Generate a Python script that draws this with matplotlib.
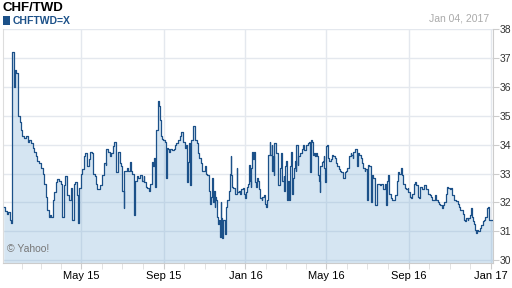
import matplotlib
matplotlib.use('Agg')
import matplotlib.pyplot as plt
import matplotlib.dates as mdates
from matplotlib.patches import Rectangle
import pandas as pd

plt.rcParams['font.family'] = ['Liberation Sans', 'DejaVu Sans']

title = 'CHF/TWD'
symbol = 'CHFTWD=X'
as_of = 'Jan 04, 2017'

# days since 2015-01-01
day = [4, 6, 9, 11, 13, 15, 16, 17, 19, 20, 21, 23, 25, 26, 28, 30, 32, 35, 37, 40,
       42, 44, 47, 49, 52, 54, 57, 59, 62, 64, 67, 69, 71, 73, 75, 77, 79, 82, 84, 86,
       89, 91, 94, 96, 99, 101, 104, 106, 109, 111, 114, 115, 117, 120, 121, 124, 126, 128, 129, 131,
       133, 136, 137, 140, 142, 144, 147, 148, 151, 153, 156, 157, 159, 162, 164, 167, 168, 171, 172, 174,
       175, 177, 179, 181, 183, 184, 185, 188, 190, 192, 194, 196, 198, 199, 200, 203, 205, 208, 210, 213,
       214, 216, 218, 221, 223, 225, 227, 229, 230, 231, 232, 234, 235, 236, 237, 239, 240, 242, 245, 246,
       247, 248, 250, 251, 253, 256, 258, 260, 262, 264, 267, 269, 271, 272, 274, 276, 277, 278, 279, 281,
       282, 283, 284, 286, 287, 289, 290, 292, 294, 296, 298, 300, 302, 304, 306, 308, 310, 311, 312, 313,
       315, 316, 318, 319, 320, 321, 323, 324, 325, 327, 328, 329, 330, 332, 333, 335, 336, 338, 340, 342,
       343, 344, 345, 347, 349, 350, 352, 353, 355, 357, 359, 361, 363, 365, 366, 368, 369, 370, 372, 373,
       374, 375, 377, 378, 379, 381, 382, 384, 385, 387, 389, 390, 393, 394, 396, 397, 398, 399, 401, 402,
       404, 405, 406, 407, 408, 410, 411, 413, 414, 416, 417, 418, 419, 421, 422, 423, 424, 425, 427, 428,
       430, 431, 432, 433, 435, 436, 438, 439, 440, 441, 443, 444, 446, 448, 450, 451, 453, 455, 456, 458,
       460, 461, 462, 463, 465, 466, 468, 469, 471, 472, 474, 475, 476, 477, 479, 481, 482, 483, 484, 485,
       487, 488, 490, 492, 494, 496, 498, 500, 502, 504, 506, 508, 510, 511, 513, 515, 517, 519, 520, 522,
       523, 525, 526, 528, 529, 531, 532, 533, 535, 537, 539, 541, 543, 544, 546, 547, 548, 550, 552, 553,
       554, 556, 558, 559, 561, 564, 566, 568, 571, 573, 575, 576, 578, 579, 582, 584, 586, 588, 591, 593,
       595, 597, 599, 601, 603, 605, 607, 608, 611, 612, 614, 616, 618, 620, 622, 624, 626, 628, 630, 632,
       634, 636, 638, 640, 642, 644, 646, 648, 650, 652, 654, 656, 658, 660, 662, 664, 666, 668, 670, 672,
       674, 676, 678, 680, 682, 684, 686, 688, 690, 691, 693, 694, 697, 698, 700, 702, 703, 705, 707, 708,
       710, 711, 713, 715, 717, 719, 721, 723, 725, 727, 728, 729, 734]

rate = [31.85, 31.7, 31.6, 31.65, 31.4, 31.3, 34.3, 37.2, 36.5, 36.0, 36.6, 36.5, 36.1, 35.0, 34.8, 34.5, 34.3, 34.25, 34.3, 34.1,
        34.15, 34.05, 33.9, 33.75, 33.6, 33.45, 33.35, 33.2, 33.0, 32.65, 32.2, 31.75, 31.5, 31.55, 31.5, 32.1, 32.35, 32.7, 32.8, 32.75,
        32.65, 31.5, 32.6, 32.9, 32.25, 32.1, 32.5, 31.4, 32.65, 32.7, 32.25, 31.3, 32.5, 33.0, 33.15, 33.6, 33.7, 33.45, 33.25, 33.5,
        33.75, 33.7, 33.0, 32.9, 32.65, 32.45, 32.45, 32.6, 32.95, 33.35, 33.3, 33.85, 33.75, 33.6, 33.7, 33.95, 34.1, 33.85, 33.05, 33.5,
        33.75, 33.35, 33.25, 32.4, 31.8, 33.1, 33.1, 33.2, 33.1, 33.4, 33.1, 33.0, 32.2, 31.55, 32.75, 32.9, 32.85, 32.95, 32.75, 32.9,
        32.7, 32.55, 32.5, 32.4, 32.65, 33.4, 33.25, 33.55, 32.55, 33.4, 34.5, 35.15, 35.5, 35.35, 34.85, 34.3, 34.2, 34.15, 34.1, 33.4,
        32.85, 33.9, 33.85, 33.75, 33.85, 33.8, 33.85, 34.0, 34.05, 34.15, 34.3, 34.45, 34.35, 34.1, 33.9, 34.0, 33.25, 32.7, 33.4, 34.05,
        32.6, 33.4, 34.15, 34.45, 34.65, 34.4, 34.15, 34.05, 33.7, 33.55, 33.35, 33.1, 33.1, 33.25, 33.0, 32.95, 32.85, 32.4, 31.95, 32.2,
        32.85, 32.0, 32.4, 31.85, 32.2, 32.1, 31.5, 31.25, 31.4, 30.8, 32.0, 31.45, 30.75, 31.4, 31.4, 30.9, 31.85, 32.1, 32.4, 33.0,
        33.6, 32.95, 32.55, 32.5, 32.4, 32.3, 33.2, 32.35, 32.4, 32.3, 32.45, 32.5, 32.3, 32.15, 32.35, 32.55, 32.65, 33.3, 32.75, 32.55,
        33.2, 33.75, 33.5, 33.75, 32.7, 32.55, 32.85, 32.75, 32.45, 32.15, 32.1, 32.2, 32.25, 31.95, 31.85, 32.1, 32.75, 33.65, 34.1, 33.65,
        34.0, 33.1, 33.6, 32.95, 34.05, 34.0, 33.7, 32.75, 32.6, 32.75, 33.2, 33.7, 32.75, 32.75, 32.9, 32.4, 33.25, 33.45, 32.1, 32.75,
        32.1, 32.7, 33.25, 33.75, 32.3, 32.85, 33.2, 33.45, 33.1, 34.0, 33.3, 33.6, 33.7, 33.7, 33.85, 34.0, 33.8, 33.95, 34.0, 34.05,
        34.1, 33.65, 33.05, 34.15, 34.1, 33.65, 33.7, 33.6, 33.7, 33.6, 32.95, 32.75, 32.35, 33.25, 33.4, 33.45, 33.6, 33.2, 32.7, 33.95,
        34.0, 33.55, 33.45, 33.5, 33.65, 33.6, 33.55, 33.35, 33.25, 33.15, 33.1, 33.05, 33.0, 32.85, 33.05, 33.1, 33.2, 33.4, 33.6, 33.7,
        33.65, 33.55, 33.75, 33.8, 33.85, 33.75, 33.25, 33.7, 33.65, 33.55, 33.35, 33.2, 33.1, 33.15, 32.7, 32.1, 33.3, 33.25, 33.2, 32.0,
        32.95, 32.85, 32.8, 31.9, 32.65, 32.65, 32.6, 32.65, 32.45, 32.65, 31.9, 32.75, 32.95, 32.3, 32.15, 32.1, 32.1, 32.25, 32.75, 33.05,
        33.0, 33.2, 32.95, 32.65, 32.5, 32.45, 32.5, 32.35, 32.2, 32.15, 32.3, 32.65, 32.7, 32.6, 32.2, 32.15, 32.55, 32.45, 32.45, 32.6,
        32.45, 32.45, 32.3, 32.25, 32.2, 32.1, 32.1, 32.25, 32.1, 32.0, 31.95, 31.9, 31.8, 31.9, 32.0, 32.3, 32.55, 32.5, 32.45, 32.5,
        32.25, 32.1, 32.1, 32.05, 31.95, 31.85, 31.75, 31.75, 31.6, 31.4, 31.35, 31.45, 31.4, 31.45, 31.55, 31.8, 31.5, 31.35, 31.25, 31.05,
        30.95, 31.05, 31.0, 31.1, 31.2, 31.35, 31.4, 31.5, 31.8, 31.85, 31.75, 31.4, 31.4]

dates = pd.Timestamp('2015-01-01') + pd.to_timedelta(day, unit='D')

line_c = '#1c5189'
fig = plt.figure(figsize=(5.12, 2.88), dpi=100)
ax = fig.add_axes([0.006, 0.087, 0.956, 0.811])

ax.fill_between(dates, rate, 29.9, step='post', color='#76acd4', alpha=0.3, lw=0, zorder=2)
ax.plot(dates, rate, drawstyle='steps-post', color=line_c, lw=0.9, zorder=3)

ax.set_xlim(pd.Timestamp('2015-01-04'), pd.Timestamp('2017-01-04'))
ax.set_ylim(29.9, 38)

ax.xaxis.set_major_locator(mdates.MonthLocator(bymonth=[1, 5, 9]))
ax.xaxis.set_minor_locator(mdates.MonthLocator())
ax.xaxis.set_major_formatter(mdates.DateFormatter('%b %y'))
ax.yaxis.tick_right()
ax.set_yticks(range(30, 39))

ax.grid(True, which='major', color='#e4e8ee', lw=1, zorder=0)
ax.set_axisbelow(True)

ax.spines['top'].set_visible(False)
ax.spines['left'].set_color('#dddddd')
ax.spines['bottom'].set_color('#cccccc')
ax.spines['right'].set_color('#cccccc')

ax.tick_params(axis='x', which='major', length=4, color='#cccccc', labelsize=8, pad=2, labelcolor='black')
ax.tick_params(axis='x', which='minor', length=4, color='#dddddd')
ax.tick_params(axis='y', length=4, color='#cccccc', labelsize=7.5, pad=1, labelcolor='#333333')

fig.text(0.004, 0.962, title, fontsize=9.5, fontweight='bold', va='baseline', ha='left')
fig.add_artist(Rectangle((0.006, 0.913), 0.0137, 0.031, transform=fig.transFigure,
                         facecolor=line_c, edgecolor='none'))
fig.text(0.025, 0.917, symbol, fontsize=7.5, fontweight='bold', color=line_c, va='baseline', ha='left')
fig.text(0.955, 0.924, as_of, fontsize=7.5, color='#aaaaaa', va='baseline', ha='right')
ax.text(0.008, 0.06, '\u00a9 Yahoo!', transform=ax.transAxes, fontsize=7.5, color='#777777', va='center', ha='left')

fig.savefig('out.png', dpi=100)
